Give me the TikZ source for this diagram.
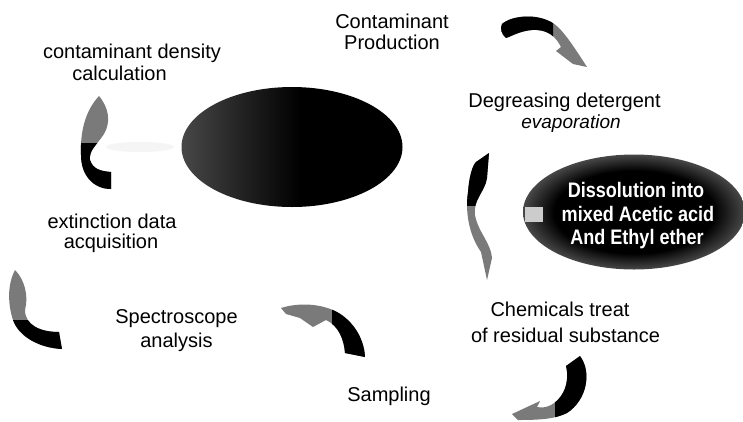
\documentclass[tikz,border=0pt]{standalone}
\usepackage{fontspec}
\setmainfont{Liberation Sans}
\newfontfamily\condfont[FakeStretch=0.86]{Liberation Sans}
\usetikzlibrary{shapes.geometric}
\pgfdeclarehorizontalshading{lellshade}{100bp}{color(0bp)=(black!72); color(25bp)=(black!72); color(40bp)=(black!88); color(52bp)=(black); color(100bp)=(black)}
\pgfdeclareradialshading{rellshade}{\pgfpoint{0bp}{0bp}}{color(0bp)=(black); color(18bp)=(black); color(25bp)=(black!72); color(50bp)=(black!72)}
\newcommand\twotone[2]{%
  \fill[headpart] #1;
  \begin{scope}\clip #2; \fill[tailpart] #1; \end{scope}}
\begin{document}
\begin{tikzpicture}[x=1pt,y=-1pt,
  lbl/.style={font=\fontsize{20}{24}\selectfont, anchor=base, inner sep=0pt},
  wlbl/.style={font=\condfont\bfseries\fontsize{21}{24}\selectfont, text=white, anchor=base, inner sep=0pt},
  headpart/.style={fill=black!52},
  tailpart/.style={fill=black}]
\useasboundingbox (0,0) rectangle (743,421);
\fill[white] (0,0) rectangle (743,421);

% ellipses
\node[ellipse, shade, shading=lellshade, minimum width=221pt, minimum height=120pt, inner sep=0pt] (ellL) at (292,147) {};
\node[ellipse, shade, shading=rellshade, minimum width=222pt, minimum height=115pt, inner sep=0pt] (ellR) at (634,212) {};
\fill[black!20] (525,207) rectangle (543,222);

% faint trail
\fill[black!4] (140,147) ellipse (34 and 5);

% arrows
\twotone{(502,24) .. controls (512,15) and (542,12) .. (558,27) .. controls (567,36) and (576,50) .. (587,67) -- (573,64) -- (556,51) -- (561,47) .. controls (556,37) and (548,29) .. (532,30) .. controls (520,31) and (512,36) .. (506,38) .. controls (501,34) and (500,28) .. (502,24) -- cycle}{(490,0) rectangle (553,100)}
\twotone{(489,153) -- (487,178) .. controls (485,192) and (473,199) .. (475,215) .. controls (478,232) and (491,243) .. (492,258) -- (487,280) -- (481,252) .. controls (469,235) and (465,212) .. (468,192) .. controls (469,178) and (472,166) .. (476,162) -- cycle}{(450,140) rectangle (500,205)}
\twotone{(580,356) .. controls (592,372) and (587,400) .. (567,413) .. controls (555,419) and (540,420) .. (518,420) -- (512,414) -- (540,401) -- (537,407) .. controls (547,409) and (555,404) .. (561,396) .. controls (568,386) and (568,374) .. (566,366) -- cycle}{(555,340) rectangle (600,421)}
\twotone{(281,308) .. controls (300,302) and (322,304) .. (337,312) .. controls (353,321) and (364,338) .. (365,357) -- (345,353) .. controls (344,340) and (339,326) .. (326,320) -- (313,327) -- (300,318) -- (286,314) -- cycle}{(332,290) rectangle (380,370)}
\twotone{(15,270) .. controls (24,279) and (29,295) .. (25,310) .. controls (25,325) and (40,332) .. (59,332) -- (62,349) .. controls (40,348) and (19,337) .. (13,320) .. controls (8,305) and (7,285) .. (15,270) -- cycle}{(0,320) rectangle (80,360)}
\twotone{(99,96) .. controls (109,108) and (111,122) .. (104,134) .. controls (96,146) and (89,150) .. (90,160) .. controls (93,169) and (100,171) .. (111,172) -- (111,189) .. controls (94,189) and (81,176) .. (81,155) .. controls (80,130) and (86,110) .. (99,96) -- cycle}{(70,143) rectangle (120,200)}

% labels
\node[lbl] (cp1) at (392,28) {Contaminant};
\node[lbl] (cp2) at (392,49) {Production};
\node[lbl] (cd1) at (132,58) {contaminant density};
\node[lbl] (cd2) at (119.5,80) {calculation};
\node[lbl] (dg1) at (564.5,107) {Degreasing detergent};
\node[lbl, font=\fontsize{19}{24}\selectfont\itshape] (dg2) at (571,128) {evaporation};
\node[lbl] (ex1) at (112,228) {extinction data};
\node[lbl] (ex2) at (111,248) {acquisition};
\node[lbl] (sp1) at (176.5,323) {Spectroscope};
\node[lbl] (sp2) at (176.5,347) {analysis};
\node[lbl] (ch1) at (560,316) {Chemicals treat};
\node[lbl] (ch2) at (565.5,342) {of residual substance};
\node[lbl] (sa) at (389,401) {Sampling};
\node[wlbl] (ds1) at (636,197) {Dissolution into};
\node[wlbl] (ds2) at (638,221) {mixed Acetic acid};
\node[wlbl] (ds3) at (637,244) {And Ethyl ether};
\end{tikzpicture}
\end{document}
